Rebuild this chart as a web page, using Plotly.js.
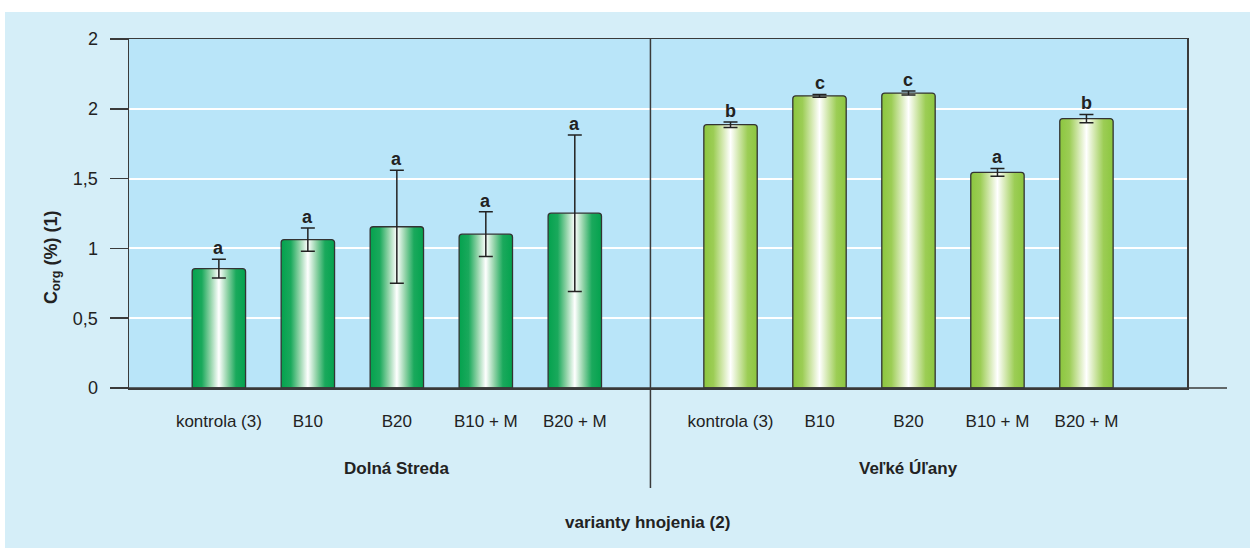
<!DOCTYPE html>
<html>
<head>
<meta charset="utf-8">
<script src="https://cdn.plot.ly/plotly-3.0.1.min.js"></script>
<style>
  html, body { margin: 0; padding: 0; background: #ffffff; }
  #chart { position: absolute; left: 5px; top: 12px; width: 1245px; height: 536px; }
</style>
</head>
<body>
<div id="chart"></div>
<script>
// ---- data ----
const categories = ["kontrola (3)", "B10", "B20", "B10 + M", "B20 + M"];
const groups = ["Dolná Streda", "Veľké Úľany"];
const dolnaValues = [0.855, 1.063, 1.155, 1.102, 1.252];
const dolnaErrors = [0.067, 0.083, 0.405, 0.160, 0.560];
const dolnaLetters = ["a", "a", "a", "a", "a"];
const velkeValues = [1.886, 2.093, 2.113, 1.545, 1.930];
const velkeErrors = [0.020, 0.010, 0.015, 0.028, 0.030];
const velkeLetters = ["b", "c", "c", "a", "b"];
const yTickVals = [0, 0.5, 1, 1.5, 2, 2.5];
const yTickText = ["0", "0,5", "1", "1,5", "2", "2"];

// ---- layout helpers ----
const groupOffset = 5.75;
const pos = (g, i) => g * groupOffset + i;
const xsD = categories.map((c, i) => pos(0, i));
const xsV = categories.map((c, i) => pos(1, i));
const FONT = 'Arial, "Liberation Sans", Helvetica, sans-serif';

function barTrace(xs, ys, errs, name) {
  return {
    type: 'bar', name: name, x: xs, y: ys, width: 0.6,
    marker: { color: '#7fcf9a', line: { color: '#333333', width: 1.3 } },
    error_y: { type: 'data', array: errs, visible: true, color: '#222222', thickness: 1.5, width: 7 },
    hoverinfo: 'skip', showlegend: false
  };
}

const traces = [
  barTrace(xsD, dolnaValues, dolnaErrors, groups[0]),
  barTrace(xsV, velkeValues, velkeErrors, groups[1])
];

const annotations = [];
function addLetters(xs, vals, errs, letters) {
  xs.forEach((x, i) => {
    annotations.push({
      x: x, y: vals[i] + errs[i], xref: 'x', yref: 'y',
      text: '<b>' + letters[i] + '</b>', showarrow: false, xanchor: 'center', yanchor: 'bottom',
      yshift: -1, font: { family: FONT, size: 18, color: '#222222' }
    });
  });
}
addLetters(xsD, dolnaValues, dolnaErrors, dolnaLetters);
addLetters(xsV, velkeValues, velkeErrors, velkeLetters);

// group labels
[xsD, xsV].forEach((xs, g) => {
  annotations.push({
    x: (xs[0] + xs[xs.length - 1]) / 2, xref: 'x', y: -0.232, yref: 'paper',
    text: '<b>' + groups[g] + '</b>', showarrow: false, xanchor: 'center', yanchor: 'middle',
    font: { family: FONT, size: 17, color: '#222222' }
  });
});
// x axis title
annotations.push({
  x: 0.49, xref: 'paper', y: -0.384, yref: 'paper',
  text: '<b>varianty hnojenia (2)</b>', showarrow: false, xanchor: 'center', yanchor: 'middle',
  font: { family: FONT, size: 17, color: '#222222' }
});
// y axis title
annotations.push({
  x: -0.073, xref: 'paper', y: 0.375, yref: 'paper',
  text: '<b>C<sub>org</sub> (%) (1)</b>', showarrow: false, textangle: -90,
  xanchor: 'center', yanchor: 'middle',
  font: { family: FONT, size: 18, color: '#222222' }
});

const layout = {
  width: 1245, height: 536,
  margin: { l: 124, r: 63, t: 27, b: 160 },
  paper_bgcolor: '#d5eef8', plot_bgcolor: '#b9e5f9',
  barmode: 'overlay', barcornerradius: 3,
  font: { family: FONT, size: 17, color: '#222222' },
  xaxis: {
    range: [-1.01, 10.88], tickvals: xsD.concat(xsV), ticktext: categories.concat(categories),
    showgrid: false, zeroline: false, showline: true, mirror: true,
    linecolor: '#3a3a3a', linewidth: 1.5, ticks: '', ticklabelstandoff: 17,
    tickfont: { family: FONT, size: 17, color: '#222222' }, fixedrange: true
  },
  yaxis: {
    range: [0, 2.5], tickvals: yTickVals, ticktext: yTickText,
    showgrid: true, gridcolor: '#ffffff', gridwidth: 2, zeroline: false,
    showline: true, mirror: true, linecolor: '#3a3a3a', linewidth: 1.5,
    ticks: 'outside', ticklen: 18, tickwidth: 1.5, tickcolor: '#3a3a3a',
    ticklabelstandoff: 8,
    tickfont: { family: FONT, size: 18, color: '#222222' }, fixedrange: true
  },
  shapes: [
    { type: 'line', xref: 'x', yref: 'paper', x0: 4.85, x1: 4.85, y0: 1, y1: -0.2865,
      line: { color: '#3a3a3a', width: 1.5 } },
    { type: 'line', xref: 'paper', yref: 'paper', x0: 0, x1: 1.0378, y0: 0, y1: 0,
      line: { color: '#3a3a3a', width: 1.5 } }
  ],
  annotations: annotations
};

function addGradients(gd) {
  const svg = gd.querySelector('svg.main-svg');
  const ns = 'http://www.w3.org/2000/svg';
  let defs = svg.querySelector('defs');
  if (!defs) { defs = document.createElementNS(ns, 'defs'); svg.insertBefore(defs, svg.firstChild); }
  const specs = [
    { id: 'gradDolna', stops: [[0, '#04a24e'], [0.18, '#1aa95c'], [0.34, '#8fd2a6'], [0.5, '#ffffff'], [0.66, '#8fd2a6'], [0.82, '#1aa95c'], [1, '#04a24e']] },
    { id: 'gradVelke', stops: [[0, '#8cc63f'], [0.18, '#9ccd55'], [0.34, '#cfe6a8'], [0.5, '#ffffff'], [0.66, '#cfe6a8'], [0.82, '#9ccd55'], [1, '#8cc63f']] }
  ];
  specs.forEach(s => {
    const lg = document.createElementNS(ns, 'linearGradient');
    lg.setAttribute('id', s.id);
    lg.setAttribute('x1', '0'); lg.setAttribute('x2', '1');
    lg.setAttribute('y1', '0'); lg.setAttribute('y2', '0');
    s.stops.forEach(st => {
      const stop = document.createElementNS(ns, 'stop');
      stop.setAttribute('offset', st[0]);
      stop.setAttribute('stop-color', st[1]);
      lg.appendChild(stop);
    });
    defs.appendChild(lg);
  });
  const traceGroups = gd.querySelectorAll('.barlayer .trace');
  traceGroups.forEach((tg, k) => {
    tg.querySelectorAll('.point path').forEach(p => {
      p.style.fill = 'url(#' + specs[k].id + ')';
    });
  });
}

Plotly.newPlot('chart', traces, layout, { staticPlot: true, displayModeBar: false })
  .then(gd => addGradients(gd));
</script>
</body>
</html>
